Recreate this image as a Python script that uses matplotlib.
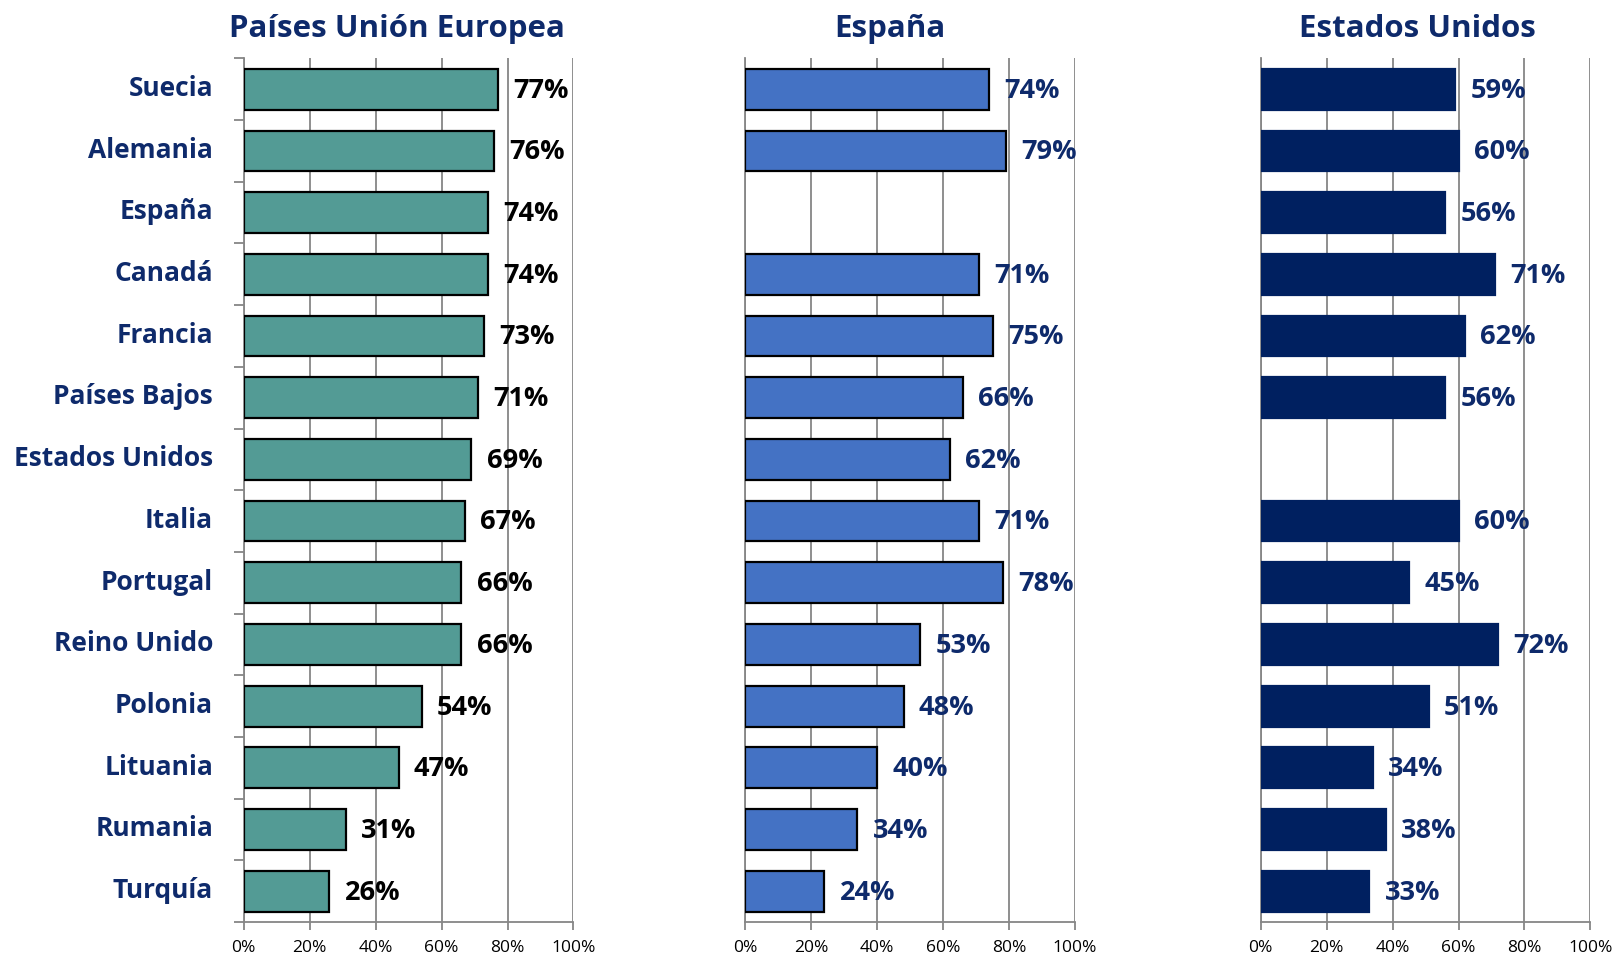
import numpy as np
import matplotlib
matplotlib.use("Agg")
import matplotlib.pyplot as plt

CATEGORIES = ["Suecia", "Alemania", "España", "Canadá", "Francia", "Países Bajos",
              "Estados Unidos", "Italia", "Portugal", "Reino Unido", "Polonia",
              "Lituania", "Rumania", "Turquía"]
EU_VALUES = [77, 76, 74, 74, 73, 71, 69, 67, 66, 66, 54, 47, 31, 26]
# None where the country is the panel itself
ES_VALUES = [74, 79, None, 71, 75, 66, 62, 71, 78, 53, 48, 40, 34, 24]
US_VALUES = [59, 60, 56, 71, 62, 56, None, 60, 45, 72, 51, 34, 38, 33]
TITLES = ["Países Unión Europea", "España", "Estados Unidos"]
XTICKS = [0, 20, 40, 60, 80, 100]

NAVY = "#0E2A6B"
FONT = "Open Sans"


def panel(ax, values, face, edge, label_color, show_cats):
    y = np.arange(len(CATEGORIES))
    vals = [v if v is not None else 0 for v in values]
    bars = ax.barh(y, vals, height=0.66, color=face, edgecolor=edge, linewidth=1.6, zorder=3)
    for b, v in zip(bars, values):
        if v is None:
            b.set_visible(False)
            continue
        ax.annotate(f"{v}%", (v, b.get_y() + b.get_height() / 2), xytext=(11, -1),
                    textcoords="offset points", va="center", ha="left",
                    fontsize=19.5, fontweight="bold", color=label_color, family=FONT, zorder=4)
    ax.set_xlim(0, 100)
    ax.set_ylim(len(CATEGORIES) - 0.5, -0.5)
    ax.set_xticks(XTICKS)
    ax.set_xticklabels([f"{t}%" for t in XTICKS], fontsize=12.5, family=FONT)
    ax.grid(axis="x", color="#868686", linewidth=1.3, zorder=0)
    ax.spines[["top", "right"]].set_visible(False)
    for side in ("bottom", "left"):
        ax.spines[side].set_color("#868686")
        ax.spines[side].set_linewidth(1.3)
    ax.tick_params(axis="x", length=6, width=1.3, color="#868686", pad=7)
    ax.set_yticks(y)
    ax.set_yticklabels([])
    ax.tick_params(axis="y", which="major", length=0)
    if show_cats:
        # category names, nudged a touch above the bar centre like the original
        for yi, name in zip(y, CATEGORIES):
            ax.annotate(name, (0, yi), xycoords=("axes fraction", "data"),
                        xytext=(-22, 0.5), textcoords="offset points",
                        ha="right", va="center", fontsize=19, fontweight="bold",
                        color=NAVY, family=FONT)
        ax.set_yticks(np.arange(-0.5, len(CATEGORIES)), minor=True)
        ax.tick_params(axis="y", which="minor", length=7, width=1.3, color="#868686")


def main():
    fig = plt.figure(figsize=(16.15, 9.57), dpi=100)
    bottom, top = 0.0365, 0.939
    w = 0.2042
    lefts = [0.1509, 0.4615, 0.7806]
    axes = [fig.add_axes([l, bottom, w, top - bottom]) for l in lefts]

    panel(axes[0], EU_VALUES, "#539B95", "black", "black", True)
    panel(axes[1], ES_VALUES, "#4472C4", "black", NAVY, False)
    panel(axes[2], US_VALUES, "#002060", "#002060", NAVY, False)

    title_x = [0.246, 0.551, 0.8775]
    for x, t in zip(title_x, TITLES):
        fig.text(x, 0.970, t, ha="center", va="center", fontsize=22.5,
                 fontweight="bold", color=NAVY, family=FONT)

    fig.savefig("out.png", dpi=100)


if __name__ == "__main__":
    main()
